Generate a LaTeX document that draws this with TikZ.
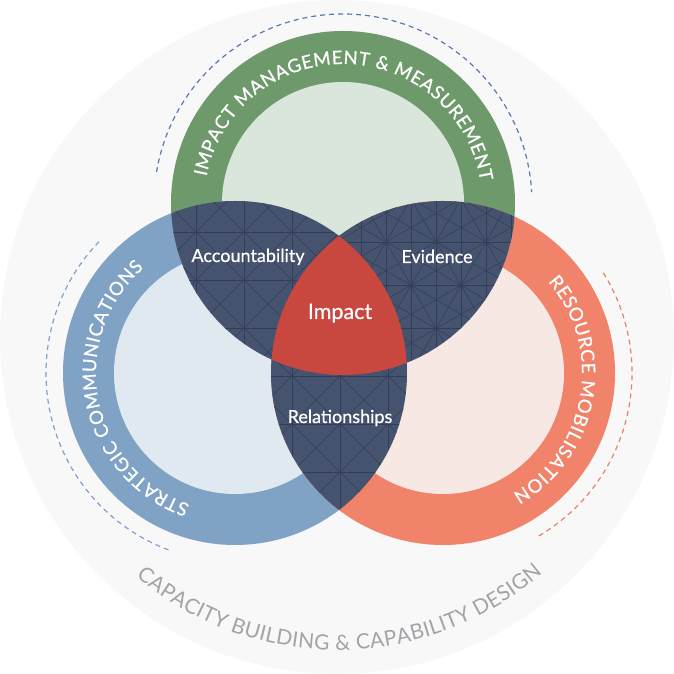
\documentclass[tikz,border=0pt]{standalone}
\usepackage{fontspec}
\setmainfont{Lato}
\newfontfamily\medfont{Lato}[BoldFont=Lato, BoldFeatures={FakeBold=0.6}]
\usetikzlibrary{decorations.text}
\definecolor{grn}{HTML}{6E9A6B}
\definecolor{grnl}{HTML}{DAE5DB}
\definecolor{blu}{HTML}{7FA2C5}
\definecolor{blul}{HTML}{E0E8F0}
\definecolor{org}{HTML}{F0836A}
\definecolor{orgl}{HTML}{F8E8E4}
\definecolor{navy}{HTML}{46536F}
\definecolor{navyl}{HTML}{313D59}
\definecolor{redc}{HTML}{C8483F}
\definecolor{bgc}{HTML}{F8F8F8}
\definecolor{gtext}{HTML}{A3A3A8}
\definecolor{dblue}{HTML}{5A77B5}
\definecolor{lblue}{HTML}{7F9FCC}
\definecolor{dorg}{HTML}{E8806A}
\tikzset{
  dasharc/.style={line width=1.2pt, dash pattern=on 5pt off 4pt},
  pat/.style={navyl, line width=0.55pt},
  lbl/.style={text=white, font=\medfont\bfseries\fontsize{18}{18}\selectfont, anchor=base, inner sep=0pt},
  ringtext/.style={decorate, decoration={text along path, text align=fit to path,
    text={|\medfont\bfseries\fontsize{18.5}{18.5}\selectfont\color{white}|#1}}},
}
\begin{document}
\begin{tikzpicture}[x=1pt,y=1pt]
\useasboundingbox (0,0) rectangle (674,674);
\coordinate (O) at (337,337);
\coordinate (G) at (343,471);
\coordinate (B) at (235,301);
\coordinate (R) at (443,301);
\fill[bgc] (O) circle (337);
% dashed arcs
\draw[dasharc, dblue] (G) ++(170.6:189) arc[start angle=170.6, end angle=3.3, radius=189];
\draw[dasharc, lblue] (B) ++(136:189) arc[start angle=136, end angle=250, radius=189];
\draw[dasharc, dorg] (R) ++(32:189) arc[start angle=32, end angle=-60, radius=189];
% rings
\fill[grn] (G) circle (172); \fill[grnl] (G) circle (121);
\fill[blu] (B) circle (172); \fill[blul] (B) circle (121);
\fill[org] (R) circle (172); \fill[orgl] (R) circle (121);
% pairwise intersections
\begin{scope}\clip (G) circle (172); \fill[navy] (B) circle (172); \end{scope}
\begin{scope}\clip (G) circle (172); \fill[navy] (R) circle (172); \end{scope}
\begin{scope}\clip (B) circle (172); \fill[navy] (R) circle (172); \end{scope}
% pattern A
\foreach \P/\Q in {G/B, B/R} {
\begin{scope}
\clip (\P) circle (172); \clip (\Q) circle (172);
\foreach \k in {0,...,15} {
  \draw[pat] (\k*48+4,0) -- (\k*48+4,674);
  \draw[pat] (0,\k*48+10) -- (674,\k*48+10);
}
\foreach \k in {-15,...,15} { \draw[pat] (\k*48-6,0) -- ++(700,700); }
\foreach \k in {0,...,30} { \draw[pat] (\k*48+14,0) -- ++(-700,700); }
\end{scope}
}
% pattern B (asanoha)
\begin{scope}
\clip (G) circle (172); \clip (R) circle (172);
\foreach \a in {0,60,120} {
\begin{scope}[rotate around={\a:(436,432)}]
\foreach \k in {-7,...,7} { \draw[pat] (190,432+\k*43.3) -- (690,432+\k*43.3); }
\foreach \k in {-11,...,11} { \draw[pat] (436+\k*25,180) -- (436+\k*25,680); }
\end{scope}
}
\end{scope}
% triple intersection
\begin{scope}\clip (G) circle (172); \clip (B) circle (172); \fill[redc] (R) circle (172); \end{scope}
% ring texts
\path[ringtext={IMPACT MANAGEMENT {\&} MEASUREMENT}] (G) ++(169:139) arc[start angle=169, end angle=9, radius=139];
\path[ringtext={STRATEGIC COMMUNICATIONS}] (B) ++(251:139) arc[start angle=251, end angle=131, radius=139];
\path[ringtext={RESOURCE MOBILISATION}] (R) ++(41:139) arc[start angle=41, end angle=-60, radius=139];
\path[decorate, decoration={text along path, text align=fit to path,
    text={|\fontsize{21}{21}\selectfont\color{gtext}|CAPACITY BUILDING {\&} CAPABILITY DESIGN}}]
  (O) ++(230:313) arc[start angle=230, end angle=311, radius=313];
% labels
\node[lbl] (acc) at (248,412) {Accountability};
\node[lbl] (evi) at (437,411) {Evidence};
\node[lbl, font=\medfont\bfseries\fontsize{21.5}{21.5}\selectfont] (imp) at (340,355) {Impact};
\node[lbl] (rel) at (340,251) {Relationships};
\end{tikzpicture}
\end{document}
